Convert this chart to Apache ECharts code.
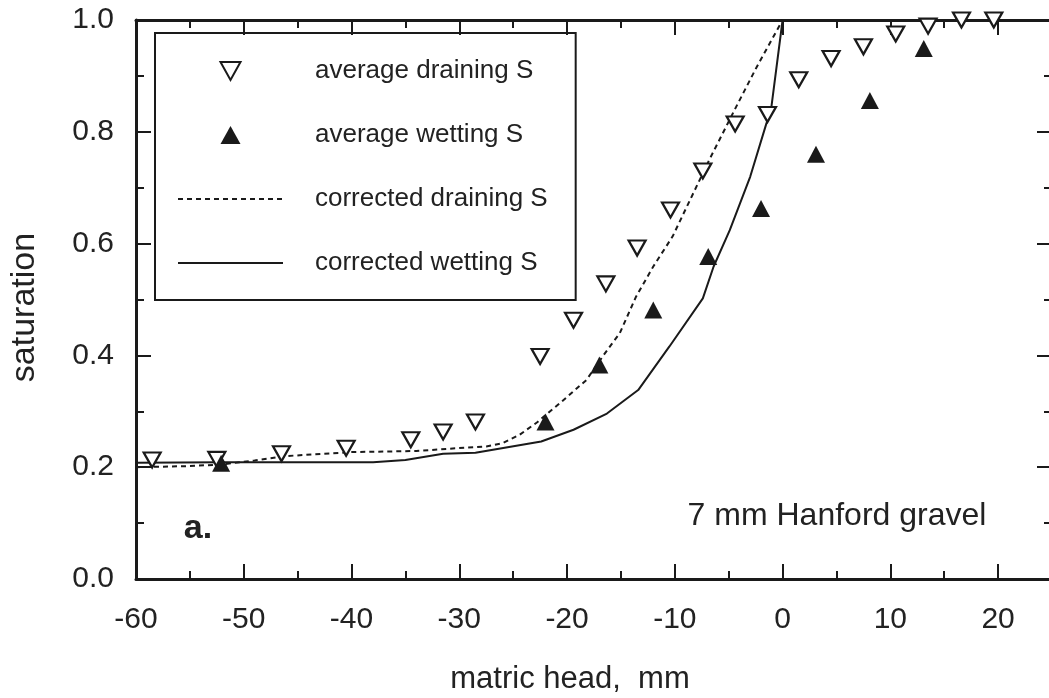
<!DOCTYPE html>
<html>
<head>
<meta charset="utf-8">
<script src="https://cdn.jsdelivr.net/npm/echarts@6/dist/echarts.min.js"></script>
<style>
  html, body { margin: 0; padding: 0; background: #fff; }
</style>
</head>
<body>
<div id="chart" style="width: 1049px; height: 698px"></div>
<script>
// measured points: [matric head (mm), saturation]
var drainingAvg = [
  [-58.5, 0.213], [-52.5, 0.214], [-46.5, 0.224], [-40.5, 0.234], [-34.5, 0.249],
  [-31.5, 0.263], [-28.5, 0.281], [-22.5, 0.398], [-19.4, 0.463], [-16.4, 0.528],
  [-13.5, 0.592], [-10.4, 0.660], [-7.4, 0.730], [-4.4, 0.814], [-1.4, 0.831],
  [1.5, 0.893], [4.5, 0.931], [7.5, 0.952], [10.5, 0.975], [13.5, 0.989],
  [16.6, 1.0], [19.6, 1.0]
]
var wettingAvg = [
  [-52.1, 0.207], [-22.0, 0.281], [-17.0, 0.383], [-12.0, 0.481], [-6.9, 0.577],
  [-2.0, 0.663], [3.1, 0.760], [8.1, 0.856], [13.1, 0.949]
]
var drainingCorr = [
  [-60, 0.200], [-55, 0.202], [-52, 0.205], [-49, 0.212], [-46, 0.220],
  [-40, 0.227], [-34, 0.229], [-31, 0.233], [-27.5, 0.237], [-26, 0.243],
  [-24.4, 0.258], [-22.8, 0.280], [-20.7, 0.314], [-18.2, 0.356], [-16.7, 0.398],
  [-15.1, 0.440], [-13.6, 0.505], [-12, 0.559], [-10.2, 0.613], [-6.8, 0.750],
  [-4.3, 0.845], [-2.4, 0.916], [0, 1.0]
]
var wettingCorr = [
  [-60, 0.208], [-52, 0.209], [-45, 0.209], [-38, 0.209], [-35, 0.213],
  [-31.5, 0.224], [-28.5, 0.226], [-22.4, 0.246], [-19.4, 0.267], [-16.3, 0.296],
  [-13.4, 0.338], [-10.5, 0.416], [-7.4, 0.502], [-6.4, 0.559], [-4.9, 0.624],
  [-3.0, 0.720], [-1.5, 0.815], [-1.1, 0.835], [0, 1.0]
]
var seriesNames = ['average draining S', 'average wetting S', 'corrected draining S', 'corrected wetting S']

var font = 'Liberation Sans, Arial, Helvetica, sans-serif'
var ink = '#1a1a1a'

var tickCommon = {
  axisLine: { show: true, onZero: false, lineStyle: { color: ink, width: 3 } },
  axisTick: { show: true, inside: true, length: 15, lineStyle: { color: ink, width: 2 } },
  minorTick: { show: true, splitNumber: 2, length: 8, lineStyle: { color: ink, width: 2 } },
  splitLine: { show: false }
}

var chart = echarts.init(document.getElementById('chart'))

var option = {
  animation: false,
  color: [ink],
  textStyle: { fontFamily: font },
  grid: { left: 136, top: 20, width: 916, height: 559, outerBoundsMode: 'none' },
  legend: {
    orient: 'vertical',
    left: 155,
    top: 33,
    padding: [23, 28, 22, 22],
    borderColor: ink,
    borderWidth: 2,
    itemWidth: 105,
    itemHeight: 18,
    itemGap: 34,
    selectedMode: false,
    textStyle: { fontSize: 26, color: '#222', fontFamily: font, padding: [0, 0, 0, 27], lineHeight: 30 },
    data: [
      { name: seriesNames[0], icon: 'path://M0,0L20,0L10,18Z', itemStyle: { color: '#fff', borderColor: ink, borderWidth: 2 } },
      { name: seriesNames[1], icon: 'path://M10,0L20,18L0,18Z', itemStyle: { color: ink, borderWidth: 0 } },
      { name: seriesNames[2], itemStyle: { opacity: 0 } },
      { name: seriesNames[3], itemStyle: { opacity: 0 } }
    ]
  },
  xAxis: [
    Object.assign({
      type: 'value', position: 'bottom', min: -60, max: 25, interval: 10,
      name: 'matric head,  mm', nameLocation: 'middle', nameGap: 85,
      nameTextStyle: { fontSize: 31, color: '#222', fontFamily: font, padding: [0, 48, 0, 0] },
      axisLabel: { fontSize: 30, color: '#222', margin: 26, showMaxLabel: false, fontFamily: font }
    }, tickCommon),
    Object.assign({
      type: 'value', position: 'top', min: -60, max: 25, interval: 10,
      axisLabel: { show: false }
    }, tickCommon)
  ],
  yAxis: [
    Object.assign({
      type: 'value', position: 'left', min: 0, max: 1, interval: 0.2,
      name: 'saturation', nameLocation: 'middle', nameGap: 94, nameRotate: 90,
      nameTextStyle: { fontSize: 34, color: '#222', fontFamily: font, padding: [0, 16, 0, 0] },
      axisLabel: {
        fontSize: 30, color: '#222', margin: 22, fontFamily: font,
        formatter: function (v) { return v.toFixed(1) }
      }
    }, tickCommon),
    Object.assign({
      type: 'value', position: 'right', min: 0, max: 1, interval: 0.2,
      axisLabel: { show: false }
    }, tickCommon)
  ],
  graphic: [
    {
      type: 'text', x: 837, y: 516,
      style: { text: '7 mm Hanford gravel', font: '32px ' + font, fill: '#222', align: 'center', verticalAlign: 'middle' }
    },
    {
      type: 'text', x: 198, y: 529,
      style: { text: 'a.', font: 'bold 34px ' + font, fill: '#222', align: 'center', verticalAlign: 'middle' }
    }
  ],
  series: [
    {
      name: seriesNames[2],
      type: 'line',
      data: drainingCorr,
      symbol: 'none',
      itemStyle: { color: ink },
      lineStyle: { color: ink, width: 2, type: [5, 4] },
      z: 2
    },
    {
      name: seriesNames[3],
      type: 'line',
      data: wettingCorr,
      symbol: 'none',
      itemStyle: { color: ink },
      lineStyle: { color: ink, width: 2 },
      z: 2
    },
    {
      name: seriesNames[0],
      type: 'scatter',
      data: drainingAvg,
      symbol: 'triangle',
      symbolRotate: 180,
      symbolSize: [17, 15],
      clip: false,
      itemStyle: { color: '#fff', borderColor: ink, borderWidth: 2.2, opacity: 1 },
      z: 4
    },
    {
      name: seriesNames[1],
      type: 'scatter',
      data: wettingAvg,
      symbol: 'triangle',
      symbolSize: [18, 17],
      clip: false,
      itemStyle: { color: ink, opacity: 1 },
      z: 4
    }
  ]
}

chart.setOption(option)
</script>
</body>
</html>
